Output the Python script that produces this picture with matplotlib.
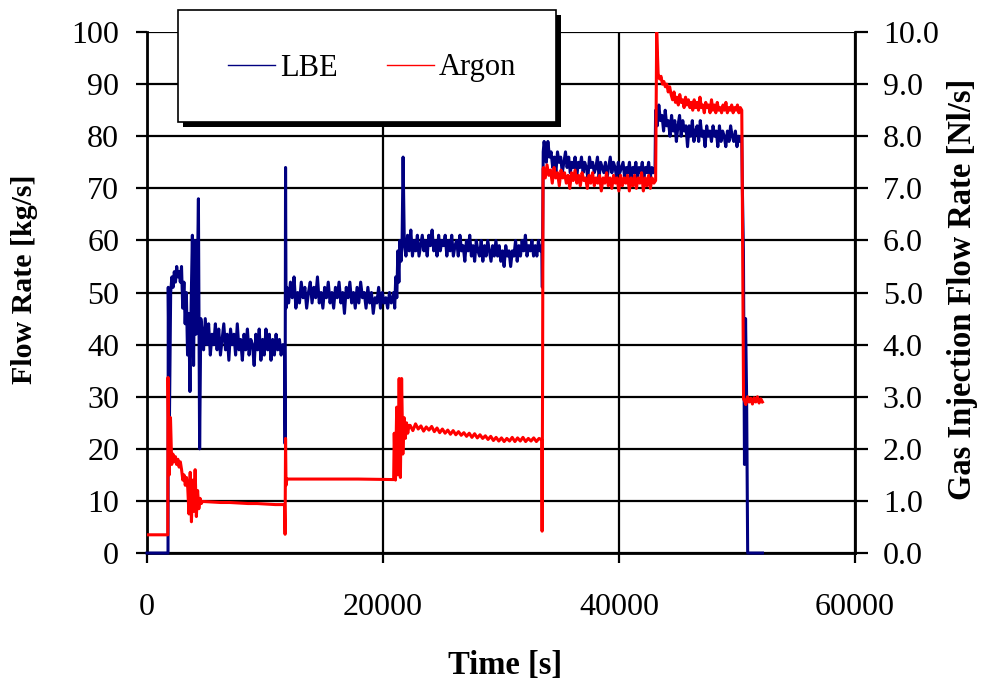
import numpy as np
import matplotlib
matplotlib.use("Agg")
import matplotlib.pyplot as plt
from matplotlib.patches import Rectangle

# LBE flow rate [kg/s]
lbe_start = [0, 1800, 4650, 11700, 11850, 20900, 21800, 33500, 33700, 43100, 50450, 50950]
lbe_end = [1780, 4560, 11650, 11780, 20850, 21700, 33450, 33650, 43050, 50400, 50900, 52150]
lbe_vals = [
    [0, 0],
    [51, 26, 50, 53, 51, 54, 52, 55, 53, 54, 52, 55, 47, 52, 44, 50, 38, 46, 31, 48,
     61, 36, 60, 42, 50, 68, 20, 45],
    [43, 39, 45, 40, 44, 38, 42, 40, 44, 39, 43, 38, 41, 44, 39, 42, 37, 43, 40, 42,
     38, 44, 39, 41, 37, 42, 39, 43, 38, 41, 40, 36, 42, 39, 43, 37, 41, 38, 43, 39,
     42, 37, 41, 38, 42, 39, 41, 38, 40, 39],
    [21, 74, 47],
    [51, 48, 52, 49, 53, 47, 50, 48, 52, 49, 51, 47, 50, 52, 48, 51, 49, 53, 48, 50,
     47, 51, 49, 52, 48, 50, 47, 51, 49, 52, 48, 50, 46, 51, 49, 52, 48, 50, 47, 51,
     48, 52, 49, 50, 47, 51, 48, 50, 46, 49, 48, 51, 47, 50, 48, 49, 47, 50, 48, 49],
    [50, 47, 53, 49, 58, 52, 60, 56, 59, 76],
    [60, 57, 61, 58, 62, 57, 60, 58, 61, 57, 59, 61, 58, 60, 57, 61, 59, 62, 58, 60,
     57, 61, 58, 60, 59, 61, 57, 60, 58, 61, 57, 59, 60, 57, 61, 58, 59, 56, 60, 58,
     61, 57, 59, 56, 60, 58, 57, 60, 56, 59, 57, 60, 58, 56, 59, 57, 60, 57, 59, 56,
     58, 55, 59, 57, 58, 55, 58, 57, 60, 56, 59, 57, 60, 58, 61, 57, 59, 58, 60, 57,
     59, 57, 60, 58, 59],
    [51, 77, 79],
    [78, 75, 79, 76, 77, 74, 76, 73, 77, 75, 76, 73, 75, 77, 74, 76, 73, 75, 74, 76,
     72, 75, 74, 76, 73, 75, 74, 72, 76, 74, 75, 73, 74, 76, 72, 75, 74, 73, 75, 72,
     74, 76, 73, 75, 74, 72, 75, 73, 74, 75, 72, 74, 73, 75, 71, 74, 73, 75, 72, 74,
     73, 75, 72, 74, 73, 75, 72, 74, 73, 74],
    [85, 82, 86, 83, 84, 81, 85, 82, 83, 80, 84, 81, 83, 79, 82, 84, 80, 83, 81, 82,
     78, 82, 80, 83, 79, 81, 82, 79, 83, 80, 81, 78, 82, 80, 81, 79, 82, 80, 81, 78,
     82, 79, 81, 80, 78, 81, 79, 82, 80, 79, 81, 78, 80, 79, 80],
    [70, 58, 17, 45, 30, 0],
    [0, 0],
]

# Argon gas injection flow rate [Nl/s]
argon_start = [0, 1780, 4700, 11700, 11850, 20950, 22300, 33480, 33600, 43190, 50450, 50600]
argon_end = [1760, 4600, 11650, 11780, 20900, 22200, 33450, 33560, 43100, 50400, 50550, 52150]
argon_vals = [
    [0.35, 0.35],
    [3.37, 1.5, 2.6, 1.7, 1.9, 1.75, 1.85, 1.7, 1.8, 1.65, 1.75, 1.6, 1.4, 1.5, 1.3,
     1.45, 1.25, 0.75, 1.55, 0.6, 1.4, 0.8, 1.6, 0.7, 1.2, 0.85, 1.05, 0.95],
    [0.99, 0.98, 0.97, 0.97, 0.96, 0.95, 0.95, 0.94, 0.93, 0.93],
    [0.36, 2.2, 1.3],
    [1.42, 1.42, 1.42, 1.41],
    [2.3, 1.4, 2.8, 1.5, 3.35, 1.45, 3.35, 1.9, 2.6, 2.2, 2.5, 2.3, 2.45],
    [2.45, 2.35, 2.48, 2.38, 2.44, 2.34, 2.42, 2.36, 2.43, 2.33, 2.40, 2.31, 2.38, 2.30,
     2.36, 2.28, 2.35, 2.27, 2.33, 2.26, 2.31, 2.24, 2.30, 2.22, 2.29, 2.21, 2.27, 2.20,
     2.25, 2.18, 2.24, 2.16, 2.22, 2.15, 2.21, 2.14, 2.20, 2.15, 2.22, 2.14, 2.21, 2.15,
     2.22, 2.14, 2.20, 2.15, 2.21, 2.14, 2.20, 2.17],
    [0.42, 3.3, 7.37],
    [7.4, 7.2, 7.45, 7.25, 7.35, 7.1, 7.4, 7.2, 7.3, 7.05, 7.35, 7.2, 7.3, 7.1, 7.25,
     7.0, 7.3, 7.15, 7.35, 7.1, 7.25, 7.05, 7.3, 7.15, 7.2, 7.0, 7.25, 7.1, 7.3, 7.05,
     7.2, 7.1, 7.25, 6.95, 7.2, 7.1, 7.3, 7.05, 7.2, 7.0, 7.25, 7.1, 7.2, 6.95, 7.25,
     7.05, 7.2, 7.1, 7.25, 6.95, 7.2, 7.05, 7.25, 7.0, 7.2, 7.1, 7.3, 6.95, 7.2, 7.05,
     7.25, 7.0, 7.2, 7.1, 7.15],
    [10.0, 9.2, 9.1, 9.15, 9.0, 9.05, 8.95, 9.0, 8.85, 8.95, 8.8, 8.7, 8.85, 8.65, 8.75,
     8.6, 8.8, 8.65, 8.7, 8.55, 8.75, 8.6, 8.7, 8.55, 8.65, 8.5, 8.7, 8.55, 8.65, 8.5,
     8.75, 8.55, 8.6, 8.45, 8.65, 8.55, 8.6, 8.45, 8.7, 8.5, 8.6, 8.45, 8.65, 8.5, 8.55,
     8.45, 8.6, 8.5, 8.65, 8.45, 8.55, 8.5, 8.6, 8.45, 8.55, 8.5, 8.6, 8.45, 8.55, 8.5],
    [6.8, 2.95],
    [2.95, 2.85, 3.0, 2.9, 2.97, 2.86, 2.98, 2.9, 3.0, 2.88, 2.96, 2.9],
]

x_ticks = [0, 20000, 40000, 60000]
x_labels = ["0", "20000", "40000", "60000"]
left_ticks = list(range(0, 101, 10))
right_ticks = list(range(0, 11))
right_labels = [f"{v:.1f}" for v in right_ticks]


def build(starts, ends, vals):
    t = np.concatenate([np.linspace(s, e, len(v)) for s, e, v in zip(starts, ends, vals)])
    y = np.concatenate([np.asarray(v, dtype=float) for v in vals])
    return t, y


lbe_t, lbe_y = build(lbe_start, lbe_end, lbe_vals)
ar_t, ar_y = build(argon_start, argon_end, argon_vals)

plt.rcParams['font.family'] = 'serif'
plt.rcParams['font.serif'] = ['Liberation Serif', 'DejaVu Serif']

fig = plt.figure(figsize=(9.86, 6.82), dpi=100)
ax = fig.add_axes([0.1491, 0.1891, 0.7181, 0.7639])
ax2 = ax.twinx()

ax.plot(lbe_t, lbe_y, color='#000080', lw=2.2, label='LBE', zorder=3, clip_on=False)
ax2.plot(ar_t, ar_y, color='#ff0000', lw=2.2, label='Argon', zorder=3)

ax.set_xlim(0, 60000)
ax.set_ylim(0, 100)
ax2.set_ylim(0, 10)

ax.set_xticks(x_ticks)
ax.set_xticklabels(x_labels)
ax.set_yticks(left_ticks)
ax2.set_yticks(right_ticks)
ax2.set_yticklabels(right_labels)

ax.set_axisbelow(True)
ax.grid(True, color='black', lw=1.6)

for a in (ax, ax2):
    a.spines['top'].set_visible(False)
    for s in ('left', 'right', 'bottom'):
        a.spines[s].set_linewidth(2.0)
ax.spines['right'].set_visible(False)
ax2.spines['bottom'].set_visible(False)
ax2.spines['left'].set_visible(False)

ax.tick_params(axis='y', direction='out', length=8, width=1.6, pad=12, labelsize=23)
ax.tick_params(axis='x', direction='out', length=7, width=1.6, pad=22, labelsize=23)
ax2.tick_params(axis='y', direction='out', length=9, width=1.6, pad=11, labelsize=23)

fig.text(25 / 986, 1 - 279 / 682, "Flow Rate [kg/s]", rotation=90, ha='center', va='center',
         fontsize=21.5, fontweight='bold')
fig.text(963 / 986, 1 - 289 / 682, "Gas Injection Flow Rate [Nl/s]", rotation=90, ha='center',
         va='center', fontsize=23.5, fontweight='bold')
fig.text(505 / 986, 1 - 665 / 682, "Time [s]", ha='center', va='center',
         fontsize=23.5, fontweight='bold')

# legend box with a solid drop shadow
fig.patches.append(Rectangle((183 / 986, 1 - 127 / 682), 378 / 986, 112 / 682,
                             transform=fig.transFigure, facecolor='black', edgecolor='none', zorder=1))
fig.patches.append(Rectangle((178 / 986, 1 - 122 / 682), 378 / 986, 112 / 682,
                             transform=fig.transFigure, facecolor='white', edgecolor='black',
                             lw=1.2, zorder=2))
h1, l1 = ax.get_legend_handles_labels()
h2, l2 = ax2.get_legend_handles_labels()
leg = fig.legend(h1 + h2, l1 + l2, loc='center', bbox_to_anchor=(372 / 986, 1 - 68 / 682),
                 ncol=2, frameon=False, fontsize=22, handlelength=1.55, handletextpad=0.15,
                 columnspacing=1.6)
for line in leg.get_lines():
    line.set_linewidth(1.0)

fig.savefig("out.png", dpi=100)
